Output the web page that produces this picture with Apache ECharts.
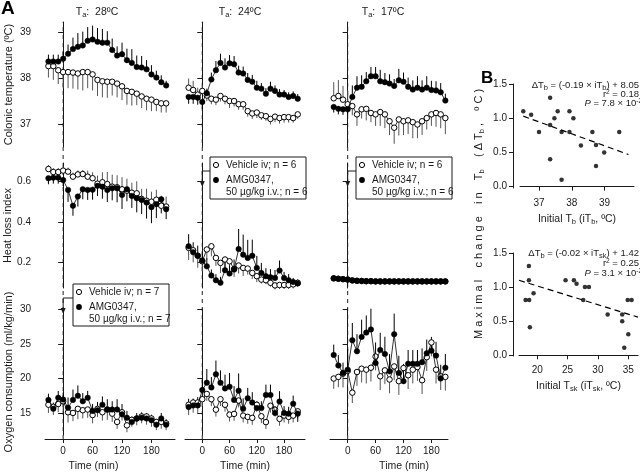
<!DOCTYPE html>
<html>
<head>
<meta charset="utf-8">
<script src="https://cdn.jsdelivr.net/npm/echarts@6/dist/echarts.min.js"></script>
<style>
  html, body { margin: 0; padding: 0; background: #fff; }
  #chart { width: 640px; height: 474px; }
</style>
</head>
<body>
<div id="chart"></div>
<script>
// time after injection (min)
const timeMin = [-30, -20, -10, 0, 10, 20, 30, 40, 50, 60, 70, 80, 90, 100, 110, 120, 130, 140, 150, 160, 170, 180, 190, 200, 210]
const injectTime = 0
const timeTicks = [0, 60, 120, 180]

// colonic temperature (ºC); error values are signed (+ up, - down)
const colonic28Amg = [38.36, 38.36, 38.36, 38.42, 38.53, 38.63, 38.68, 38.71, 38.81, 38.84, 38.79, 38.77, 38.77, 38.61, 38.49, 38.52, 38.39, 38.33, 38.24, 38.23, 38.19, 38.08, 38.01, 37.91, 37.84]
const colonic28AmgErr = [0.15, 0.15, 0.15, 0.15, 0.2, 0.25, 0.3, 0.3, 0.3, 0.3, 0.3, 0.3, 0.25, 0.25, 0.2, 0.25, 0.25, 0.3, 0.25, 0.25, 0.2, 0.2, 0.15, 0.15, 0.1]
const colonic28Veh = [38.26, 38.26, 38.17, 38.13, 38.13, 38.12, 38.1, 38.13, 38.13, 38.08, 37.96, 37.93, 37.92, 37.92, 37.88, 37.82, 37.72, 37.7, 37.66, 37.6, 37.55, 37.53, 37.48, 37.45, 37.45]
const colonic28VehErr = [-0.25, -0.3, -0.3, -0.35, -0.35, -0.35, -0.35, -0.4, -0.35, -0.35, -0.35, -0.35, -0.35, -0.3, -0.3, -0.3, -0.3, -0.3, -0.25, -0.25, -0.25, -0.25, -0.2, -0.2, -0.2]

const colonic24Amg = [37.59, 37.59, 37.57, 37.48, 37.67, 37.97, 38.17, 38.33, 38.23, 38.32, 38.3, 38.12, 38.1, 37.96, 37.92, 37.79, 37.77, 37.66, 37.77, 37.72, 37.64, 37.64, 37.59, 37.61, 37.55]
const colonic24AmgErr = [-0.15, -0.15, -0.15, -0.15, 0.1, 0.15, 0.2, 0.2, 0.2, 0.18, 0.18, 0.15, 0.15, 0.15, 0.15, 0.15, 0.12, 0.12, 0.15, 0.12, 0.12, 0.1, 0.1, 0.1, 0.1]
const colonic24Veh = [37.79, 37.74, 37.64, 37.72, 37.62, 37.55, 37.53, 37.61, 37.55, 37.5, 37.5, 37.43, 37.43, 37.28, 37.23, 37.25, 37.19, 37.17, 37.11, 37.16, 37.13, 37.15, 37.15, 37.13, 37.21]
const colonic24VehErr = [0.2, 0.2, 0.15, 0.12, -0.12, -0.12, -0.12, -0.12, -0.12, -0.15, -0.12, -0.12, -0.12, -0.12, -0.12, -0.12, -0.1, -0.1, -0.12, -0.12, -0.12, -0.12, -0.12, -0.1, -0.1]

const colonic17Amg = [37.37, 37.33, 37.32, 37.32, 37.59, 37.79, 37.81, 37.93, 38.04, 38.04, 37.93, 37.91, 37.88, 37.83, 37.95, 37.92, 37.81, 37.75, 37.79, 37.75, 37.79, 37.74, 37.73, 37.69, 37.51]
const colonic17AmgErr = [-0.12, -0.12, -0.12, -0.12, 0.25, 0.25, 0.25, 0.2, 0.2, 0.2, 0.25, 0.2, 0.2, 0.15, 0.25, 0.2, 0.2, 0.2, 0.25, 0.2, 0.25, 0.2, 0.2, 0.2, 0.15]
const colonic17Veh = [37.56, 37.61, 37.53, 37.43, 37.39, 37.21, 37.32, 37.33, 37.24, 37.21, 37.26, 37.21, 37.06, 36.92, 37.1, 37.06, 37.08, 37.04, 36.99, 37.06, 37.13, 37.21, 37.24, 37.21, 37.13]
const colonic17VehErr = [0.35, 0.35, 0.3, 0.3, -0.2, -0.25, -0.2, -0.25, -0.2, -0.25, -0.3, -0.3, -0.3, -0.35, -0.35, -0.3, -0.3, -0.35, -0.3, -0.3, -0.25, -0.25, -0.3, -0.3, -0.35]

// heat loss index
const hli28Amg = [0.617, 0.62, 0.62, 0.608, 0.559, 0.48, 0.526, 0.562, 0.559, 0.56, 0.579, 0.575, 0.559, 0.567, 0.567, 0.534, 0.562, 0.529, 0.517, 0.509, 0.496, 0.473, 0.488, 0.512, 0.463]
const hli28AmgErr = [-0.03, -0.03, -0.03, -0.03, -0.06, -0.05, -0.05, -0.05, -0.05, -0.05, -0.05, -0.06, -0.06, -0.06, -0.07, -0.07, -0.06, -0.06, -0.07, -0.07, -0.08, -0.08, -0.07, -0.07, -0.05]
const hli28Veh = [0.663, 0.648, 0.648, 0.655, 0.65, 0.625, 0.636, 0.638, 0.625, 0.617, 0.59, 0.597, 0.588, 0.575, 0.572, 0.562, 0.555, 0.545, 0.542, 0.514, 0.505, 0.5, 0.51, 0.48, 0.476]
const hli28VehErr = [0.02, 0.02, 0.02, 0.02, 0.02, 0.02, 0.02, 0.02, 0.03, 0.03, 0.04, 0.05, 0.06, 0.06, 0.06, 0.06, 0.06, 0.05, 0.06, 0.05, 0.06, 0.05, 0.05, 0.05, 0.05]

const hli24Amg = [0.278, 0.248, 0.231, 0.207, 0.178, 0.132, 0.109, 0.096, 0.159, 0.142, 0.162, 0.264, 0.236, 0.22, 0.231, 0.17, 0.145, 0.129, 0.124, 0.12, 0.157, 0.12, 0.109, 0.1, 0.093]
const hli24AmgErr = [0.06, 0.05, 0.05, 0.04, 0.04, 0.03, 0.03, 0.03, 0.04, 0.04, 0.05, 0.1, 0.1, 0.09, 0.08, 0.06, 0.05, 0.04, 0.04, 0.04, 0.05, 0.03, 0.03, 0.02, 0.02]
const hli24Veh = [0.27, 0.258, 0.231, 0.203, 0.262, 0.278, 0.22, 0.195, 0.212, 0.203, 0.165, 0.182, 0.17, 0.167, 0.145, 0.129, 0.112, 0.109, 0.096, 0.083, 0.085, 0.085, 0.085, 0.088, 0.096]
const hli24VehErr = [-0.06, -0.06, -0.06, -0.05, -0.05, -0.05, -0.04, -0.05, -0.05, -0.04, -0.04, -0.04, -0.04, -0.03, -0.03, -0.03, -0.02, -0.02, -0.02, -0.02, -0.02, -0.02, -0.02, -0.02, -0.02]

const hli17Amg = [0.118, 0.116, 0.114, 0.112, 0.108, 0.106, 0.105, 0.104, 0.104, 0.103, 0.103, 0.103, 0.103, 0.103, 0.103, 0.103, 0.103, 0.103, 0.103, 0.103, 0.103, 0.103, 0.103, 0.103, 0.103]
const hli17AmgErr = [0.003, 0.003, 0.003, 0.003, 0.003, 0.003, 0.003, 0.003, 0.003, 0.003, 0.003, 0.003, 0.003, 0.003, 0.003, 0.003, 0.003, 0.003, 0.003, 0.003, 0.003, 0.003, 0.003, 0.003, 0.003]
const hli17Veh = [0.118, 0.116, 0.114, 0.112, 0.108, 0.106, 0.105, 0.104, 0.104, 0.103, 0.103, 0.103, 0.103, 0.103, 0.103, 0.103, 0.103, 0.103, 0.103, 0.103, 0.103, 0.103, 0.103, 0.103, 0.103]
const hli17VehErr = [-0.003, -0.003, -0.003, -0.003, -0.003, -0.003, -0.003, -0.003, -0.003, -0.003, -0.003, -0.003, -0.003, -0.003, -0.003, -0.003, -0.003, -0.003, -0.003, -0.003, -0.003, -0.003, -0.003, -0.003, -0.003]

// oxygen consumption (ml/kg/min)
const vo228Amg = [16.9, 15.6, 17.2, 16.95, 15.76, 16.9, 17.5, 16.7, 17.2, 15.3, 15.4, 16.2, 15.5, 15.5, 15.5, 14.8, 14.3, 13.7, 14.2, 14.3, 14.2, 13.95, 13.3, 14.2, 13.3]
const vo228AmgErr = [0.9, 0.9, 1.0, 1.0, 1.5, 1.5, 1.5, 1.2, 1.0, 1.0, 1.2, 1.2, 1.5, 1.2, 1.5, 1.5, 1.0, 0.8, 0.8, 0.8, 0.8, 0.8, 0.8, 0.8, 0.8]
const vo228Veh = [16.2, 15.9, 16.3, 16.7, 15.1, 15.0, 15.6, 15.4, 15.5, 14.7, 15.6, 15.1, 15.5, 14.9, 13.7, 15.1, 13.2, 14.0, 14.2, 14.5, 14.5, 14.2, 13.7, 13.7, 13.5]
const vo228VehErr = [-1.2, -1.2, -1.2, -1.5, -1.5, -1.2, -1.5, -1.2, -1.2, -1.2, -1.2, -1.2, -1.5, -1.2, -1.0, -1.2, -1.0, -1.0, -1.0, -1.0, -1.2, -1.2, -1.2, -1.0, -1.0]

const vo224Amg = [15.86, 16.1, 16.1, 18.33, 19.38, 18.71, 20.62, 19.38, 18.57, 18.81, 16.9, 18.24, 15.62, 17.14, 16.52, 15.71, 15.71, 17.62, 17.62, 15.0, 16.67, 15.0, 14.9, 16.33, 14.9]
const vo224AmgErr = [1.2, 1.0, 1.2, 1.5, 2.0, 1.5, 2.0, 1.8, 2.0, 2.0, 2.0, 2.5, 1.5, 1.5, 1.5, 1.0, 1.0, 1.5, 1.5, 1.0, 1.5, 1.0, 1.0, 1.2, -1.2]
const vo224Veh = [16.19, 16.52, 16.52, 17.0, 17.76, 17.0, 15.48, 17.0, 16.19, 14.76, 14.86, 16.81, 14.62, 14.43, 14.29, 16.19, 14.52, 13.67, 16.05, 15.48, 14.14, 14.62, 14.43, 14.62, 15.24]
const vo224VehErr = [-1.5, -1.5, -1.5, -1.0, -1.0, -1.0, -1.0, -1.0, -1.0, -1.0, -1.0, -1.0, -1.0, -1.0, -1.0, -1.0, -1.0, -1.0, -1.0, -1.0, -1.0, -1.0, -1.0, -1.0, -1.0]

const vo217Amg = [23.43, 21.9, 20.81, 21.29, 25.57, 23.95, 26.05, 26.67, 27.14, 22.24, 24.14, 23.57, 21.05, 26.43, 20.81, 19.62, 22.14, 22.14, 22.14, 22.38, 23.67, 24.05, 23.33, 20.0, 21.57]
const vo217AmgErr = [1.5, 1.5, 1.5, 3.0, 2.5, 2.5, 2.5, 2.5, 3.0, 3.0, 2.5, 2.5, 2.5, 3.0, 2.5, 2.5, 2.0, 2.0, 2.0, 2.0, 2.0, 2.0, 2.0, 2.0, 2.0]
const vo217Veh = [20.0, 20.24, 20.71, 21.1, 17.95, 20.95, 21.43, 21.29, 21.57, 23.19, 20.33, 21.19, 19.86, 21.76, 19.62, 21.52, 20.48, 21.29, 21.67, 19.76, 23.1, 25.24, 21.29, 20.33, 20.24]
const vo217VehErr = [-1.5, -1.5, -2.0, -2.0, -1.5, -2.0, -2.0, -2.0, -2.0, -2.0, -2.0, -2.0, -2.0, -2.0, -2.0, -2.0, -2.0, -2.0, -2.0, -2.0, -2.0, -2.0, -2.0, -2.0, -2.0]

// panel B
const tbInitial = [36.52, 36.76, 37.0, 37.34, 37.34, 37.34, 37.47, 37.57, 37.69, 37.69, 37.93, 37.93, 38.05, 38.28, 38.63, 38.74, 38.74, 38.99, 39.45]
const tbChange = [1.10, 1.05, 0.80, 1.30, 0.90, 0.40, 1.00, 1.10, 0.80, 0.10, 1.10, 0.80, 1.00, 0.60, 0.80, 0.61, 0.30, 0.50, 0.80]
const tbRegX = [36.52, 39.73]
const tbRegY = [1.03, 0.47]
const tskInitial = [18.08, 18.68, 18.63, 18.63, 18.79, 19.4, 24.67, 26.04, 26.48, 27.86, 28.52, 27.58, 31.6, 34.0, 34.0, 34.34, 35.0, 34.9, 35.55]
const tskChange = [0.81, 0.81, 1.31, 1.10, 0.41, 0.91, 1.10, 1.10, 1.05, 1.0, 1.0, 0.81, 0.60, 0.60, 0.50, 0.11, 0.31, 0.81, 0.81]
const tskRegX = [17.0, 36.6]
const tskRegY = [1.10, 0.56]
const bTicksY = [0, 0.5, 1.0, 1.5]
const tbTicksX = [37, 38, 39]
const tskTicksX = [20, 25, 30, 35]

const panels = [
  [[colonic28Veh, colonic28VehErr, colonic28Amg, colonic28AmgErr], [colonic24Veh, colonic24VehErr, colonic24Amg, colonic24AmgErr], [colonic17Veh, colonic17VehErr, colonic17Amg, colonic17AmgErr]],
  [[hli28Veh, hli28VehErr, hli28Amg, hli28AmgErr], [hli24Veh, hli24VehErr, hli24Amg, hli24AmgErr], [hli17Veh, hli17VehErr, hli17Amg, hli17AmgErr]],
  [[vo228Veh, vo228VehErr, vo228Amg, vo228AmgErr], [vo224Veh, vo224VehErr, vo224Amg, vo224AmgErr], [vo217Veh, vo217VehErr, vo217Amg, vo217AmgErr]]
]

const FONT = "'Liberation Sans', Arial, Helvetica, sans-serif"
const TXT = '#1a1a1a'

const cols = [
  { left: 45, width: 130, min: -37, max: 228, yOff: 5, namePad: [0, 33, 0, 0], title: '28ºC', titleX: 97 },
  { left: 185, width: 120, min: -38, max: 226, yOff: 8, namePad: [0, 0, 0, 0], title: '24ºC', titleX: 240 },
  { left: 330, width: 118, min: -38, max: 215.7, yOff: 8, namePad: [0, 0, 0, 30], title: '17ºC', titleX: 383 }
]
const rows = [
  { top: 22, height: 125, min: 36.5, max: 39.22, ticks: [37, 38, 39], digits: 0, name: 'Colonic temperature (ºC)' },
  { top: 163, height: 125, min: 0.07, max: 0.693, ticks: [0.2, 0.4, 0.6], digits: 1, name: 'Heat loss index' },
  { top: 309, height: 126, min: 11.8, max: 30.1, ticks: [15, 20, 25, 30], digits: 0, name: 'Oxygen consumption (ml/kg/min)' }
]

const subRich = {
  s: { fontSize: 7.5, fontFamily: FONT, color: TXT, verticalAlign: 'bottom', padding: [5, 0, 0, 0] },
  p: { fontSize: 6.5, fontFamily: FONT, color: TXT, verticalAlign: 'top', padding: [0, 0, 3, 0] },
  i: { fontStyle: 'italic', fontSize: 9.5, fontFamily: FONT, color: TXT }
}

function errorBars (idx, xs, ys, errs, color) {
  return {
    type: 'custom',
    xAxisIndex: idx,
    yAxisIndex: idx,
    silent: true,
    z: 1,
    data: xs.map((t, k) => [t, ys[k], errs[k]]),
    renderItem (params, api) {
      const a = api.coord([api.value(0), api.value(1)])
      const b = api.coord([api.value(0), api.value(1) + api.value(2)])
      return {
        type: 'line',
        shape: { x1: a[0], y1: a[1], x2: b[0], y2: b[1] },
        style: { stroke: color, lineWidth: 1 }
      }
    }
  }
}

function lineSeries (idx, xs, ys, filled) {
  return {
    type: 'line',
    xAxisIndex: idx,
    yAxisIndex: idx,
    silent: true,
    z: filled ? 4 : 3,
    symbol: 'circle',
    symbolSize: 5.5,
    lineStyle: { color: '#000', width: 0.8 },
    itemStyle: filled
      ? { color: '#000', borderColor: '#000', borderWidth: 0.5 }
      : { color: '#fff', borderColor: '#000', borderWidth: 1 },
    data: xs.map((t, k) => [t, ys[k]])
  }
}

const grids = []
const xAxes = []
const yAxes = []
const series = []

rows.forEach((row, r) => {
  cols.forEach((col, c) => {
    const idx = grids.length
    grids.push({ left: col.left, top: row.top, width: col.width, height: row.height })
    const bottomRow = r === 2
    xAxes.push({
      gridIndex: idx,
      type: 'value',
      min: col.min,
      max: col.max,
      show: bottomRow,
      offset: 4,
      axisLine: { show: true, lineStyle: { color: TXT, width: 1 } },
      axisTick: { show: true, length: 4, customValues: timeTicks, lineStyle: { color: TXT } },
      axisLabel: { customValues: timeTicks, margin: 7, fontSize: 10, color: TXT, fontFamily: FONT },
      splitLine: { show: false },
      name: 'Time (min)',
      nameLocation: 'middle',
      nameGap: 22,
      nameTextStyle: { fontSize: 10.5, color: TXT, fontFamily: FONT, padding: col.namePad }
    })
    yAxes.push({
      gridIndex: idx,
      type: 'value',
      min: row.min,
      max: row.max,
      offset: col.yOff,
      axisLine: { show: true, lineStyle: { color: TXT, width: 1 } },
      axisTick: { show: true, length: 5, customValues: row.ticks, lineStyle: { color: TXT } },
      axisLabel: {
        show: c === 0,
        customValues: row.ticks,
        formatter: v => v.toFixed(row.digits),
        margin: 9,
        fontSize: 10,
        color: TXT,
        fontFamily: FONT
      },
      splitLine: { show: false },
      name: c === 0 ? row.name : '',
      nameLocation: 'middle',
      nameGap: 26,
      nameTextStyle: { fontSize: 11, color: TXT, fontFamily: FONT }
    })
    const [veh, vehErr, amg, amgErr] = panels[r][c]
    series.push(errorBars(idx, timeMin, veh, vehErr, '#555'))
    series.push(errorBars(idx, timeMin, amg, amgErr, '#000'))
    series.push(lineSeries(idx, timeMin, veh, false))
    series.push(lineSeries(idx, timeMin, amg, true))
  })
})

// full-height overlay grids carrying the injection-time dashed line
cols.forEach(col => {
  const idx = grids.length
  grids.push({ left: col.left, top: 22, width: col.width, height: 417 })
  xAxes.push({ gridIndex: idx, type: 'value', min: col.min, max: col.max, show: false })
  yAxes.push({ gridIndex: idx, type: 'value', min: 0, max: 1, show: false })
  series.push({
    type: 'custom',
    xAxisIndex: idx,
    yAxisIndex: idx,
    silent: true,
    z: 0,
    data: [[injectTime, 0, 1]],
    renderItem (params, api) {
      const a = api.coord([api.value(0), api.value(1)])
      const b = api.coord([api.value(0), api.value(2)])
      return {
        type: 'line',
        shape: { x1: a[0], y1: a[1], x2: b[0], y2: b[1] },
        style: { stroke: '#222', lineWidth: 1, lineDash: [4, 4] }
      }
    }
  })
})

// panel B grids
const bSpecs = [
  { left: 520, top: 84, width: 114, height: 104, xmin: 36.42, xmax: 39.9, ymin: -0.02, xOff: 4, yOff: 7, ticks: tbTicksX, name: 'Initial T{s|b} (iT{s|b}, ºC)', xs: tbInitial, ys: tbChange, rx: tbRegX, ry: tbRegY },
  { left: 519, top: 253, width: 119, height: 103, xmin: 17, xmax: 36.6, ymin: -0.01, xOff: 3, yOff: 6, ticks: tskTicksX, name: 'Initial T{s|sk} (iT{s|sk}, ºC)', xs: tskInitial, ys: tskChange, rx: tskRegX, ry: tskRegY }
]
bSpecs.forEach(b => {
  const idx = grids.length
  grids.push({ left: b.left, top: b.top, width: b.width, height: b.height })
  xAxes.push({
    gridIndex: idx,
    type: 'value',
    min: b.xmin,
    max: b.xmax,
    offset: b.xOff,
    axisLine: { show: true, lineStyle: { color: TXT, width: 1 } },
    axisTick: { show: true, length: 4, customValues: b.ticks, lineStyle: { color: TXT } },
    axisLabel: { customValues: b.ticks, margin: 6, fontSize: 10, color: TXT, fontFamily: FONT },
    splitLine: { show: false },
    name: b.name,
    nameLocation: 'middle',
    nameGap: 21,
    nameTextStyle: { fontSize: 10.5, color: TXT, fontFamily: FONT, rich: subRich }
  })
  yAxes.push({
    gridIndex: idx,
    type: 'value',
    min: b.ymin,
    max: 1.5,
    offset: b.yOff,
    axisLine: { show: true, lineStyle: { color: TXT, width: 1 } },
    axisTick: { show: true, length: 4, customValues: bTicksY, lineStyle: { color: TXT } },
    axisLabel: { customValues: bTicksY, formatter: v => v.toFixed(1), margin: 6, fontSize: 10, color: TXT, fontFamily: FONT },
    splitLine: { show: false }
  })
  series.push({
    type: 'line',
    xAxisIndex: idx,
    yAxisIndex: idx,
    silent: true,
    symbol: 'none',
    lineStyle: { color: '#000', width: 1.2, type: [6, 4] },
    data: b.rx.map((x, k) => [x, b.ry[k]])
  })
  series.push({
    type: 'scatter',
    xAxisIndex: idx,
    yAxisIndex: idx,
    silent: true,
    symbolSize: 4.5,
    itemStyle: { color: '#000' },
    data: b.xs.map((x, k) => [x, b.ys[k]])
  })
})

const chart = echarts.init(document.getElementById('chart'))
chart.setOption({
  animation: false,
  backgroundColor: '#fff',
  grid: grids,
  xAxis: xAxes,
  yAxis: yAxes,
  series
})

// annotations
function txt (x, y, text, opts) {
  return {
    type: 'text',
    x,
    y,
    silent: true,
    style: Object.assign({ text, fill: TXT, font: '10.5px ' + FONT, align: 'left', verticalAlign: 'middle', rich: subRich }, opts || {})
  }
}

function legendBox (x, y, n, lineX) {
  const els = [
    { type: 'rect', shape: { x, y, width: 96, height: 42 }, style: { fill: '#fff', stroke: TXT, lineWidth: 1 }, z: 50 },
    { type: 'circle', shape: { cx: x + 6, cy: y + 8, r: 2.6 }, style: { fill: '#fff', stroke: '#000', lineWidth: 1 }, z: 51 },
    { type: 'circle', shape: { cx: x + 6, cy: y + 23, r: 2.9 }, style: { fill: '#000' }, z: 51 },
    { type: 'polyline', shape: { points: [[x, y + 14], [lineX, y + 14], [lineX, y + 25]] }, style: { stroke: TXT, lineWidth: 1, fill: null }, z: 51 },
    { type: 'polygon', shape: { points: [[lineX - 2.5, y + 24], [lineX + 2.5, y + 24], [lineX, y + 30]] }, style: { fill: TXT }, z: 51 }
  ]
  const t = [
    txt(x + 16, y + 8, 'Vehicle iv; n = ' + n, { font: '10px ' + FONT }),
    txt(x + 16, y + 23, 'AMG0347,', { font: '10px ' + FONT }),
    txt(x + 16, y + 35, '50 µg/kg i.v.; n = ' + n, { font: '10px ' + FONT })
  ]
  t.forEach(e => { e.z = 52 })
  return els.concat(t)
}

const zeroX = cols.map((c, k) => chart.convertToPixel({ xAxisIndex: 9 + k }, injectTime))

const bName = ['M', 'a', 'x', 'i', 'm', 'a', 'l', '  ', 'c', 'h', 'a', 'n', 'g', 'e', '  ', 'i', 'n', '  ', 'T{s|b}', '  ', '(', 'Δ', 'T{s|b}', ',', '  ', 'º', 'C', ')'].join(' ')

const graphic = [
  txt(1, 9, 'A', { font: 'bold 19px ' + FONT, fill: '#000' }),
  txt(481, 78, 'B', { font: 'bold 17px ' + FONT, fill: '#000' }),
  txt(479, 214, bName, { align: 'center', font: '11px ' + FONT }),
  txt(639, 85, 'ΔT{s|b} = (-0.19 × iT{s|b}) + 8.05', { align: 'right', font: '9.5px ' + FONT }),
  txt(639, 94, 'r{p|2} = 0.18', { align: 'right', font: '9.5px ' + FONT }),
  txt(642, 103, '{i|P} = 7.8 × 10{p|-2}', { align: 'right', font: '9.5px ' + FONT }),
  txt(639, 253, 'ΔT{s|b} = (-0.02 × iT{s|sk}) + 1.42', { align: 'right', font: '9.5px ' + FONT }),
  txt(639, 263, 'r{p|2} = 0.25', { align: 'right', font: '9.5px ' + FONT }),
  txt(642, 273, '{i|P} = 3.1 × 10{p|-2}', { align: 'right', font: '9.5px ' + FONT })
]
graphic[2].rotation = Math.PI / 2
cols.forEach(c => {
  graphic.push(txt(c.titleX, 12, 'T{s|a}:  ' + c.title, { align: 'center', font: '10.5px ' + FONT }))
})
graphic.push(...legendBox(73, 284, 7, zeroX[0]))
graphic.push(...legendBox(210, 157, 6, zeroX[1]))
graphic.push(...legendBox(356, 157, 6, zeroX[2]))

chart.setOption({ graphic })
</script>
</body>
</html>
